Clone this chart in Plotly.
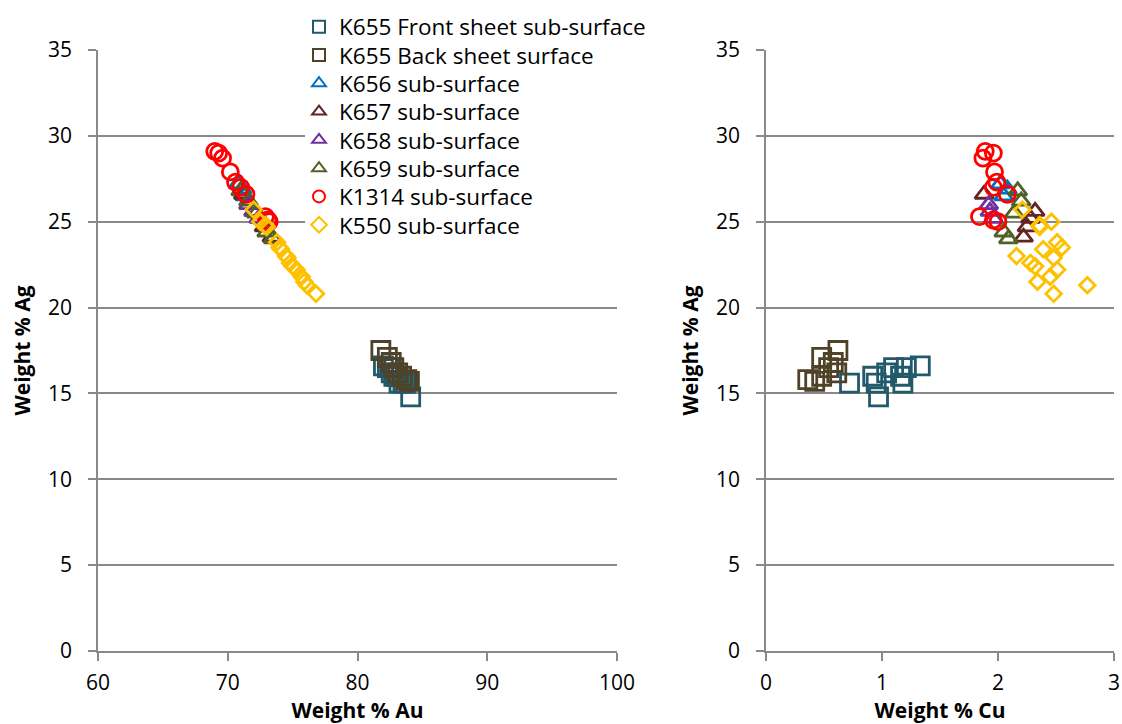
import plotly.graph_objects as go

# ---- data: each point has Au, Ag, Cu (weight %) ----
front_ag = [16.6, 16.5, 16.5, 16.2, 16.0, 16.0, 15.6, 15.6, 15.6, 14.8]
front_au = [82.0, 82.3, 82.5, 82.6, 82.8, 83.0, 83.2, 83.5, 83.7, 84.1]
front_cu = [1.33, 1.10, 1.21, 1.04, 0.92, 1.16, 0.72, 0.95, 1.18, 0.97]

back_ag = [17.5, 17.1, 16.8, 16.5, 16.2, 16.0, 15.8, 15.7]
back_au = [81.8, 82.3, 82.6, 82.8, 83.1, 83.4, 83.8, 84.0]
back_cu = [0.62, 0.48, 0.58, 0.54, 0.61, 0.48, 0.36, 0.42]

k656_ag = [27.2, 26.9, 26.5]
k656_au = [70.8, 71.1, 71.3]
k656_cu = [2.02, 2.08, 2.05]

k657_ag = [26.6, 25.6, 25.2, 24.7, 24.1]
k657_au = [71.2, 72.0, 72.5, 72.8, 73.4]
k657_cu = [1.88, 2.32, 2.28, 2.25, 2.22]

k658_ag = [26.0, 25.6, 25.2]
k658_au = [71.6, 72.0, 72.4]
k658_cu = [1.92, 1.93, 1.96]

k659_ag = [26.8, 26.2, 25.5, 24.4, 24.0]
k659_au = [71.0, 71.6, 72.2, 73.0, 73.5]
k659_cu = [2.17, 2.20, 2.14, 2.05, 2.09]

k1314_ag = [29.1, 29.0, 28.7, 27.9, 27.3, 27.0, 26.6, 25.3, 25.1, 25.0]
k1314_au = [69.0, 69.3, 69.6, 70.2, 70.6, 71.0, 71.4, 72.9, 73.1, 73.2]
k1314_cu = [1.89, 1.96, 1.87, 1.97, 1.99, 1.96, 2.08, 1.84, 1.96, 2.00]

k550_ag = [25.7, 25.0, 24.8, 24.7, 23.8, 23.5, 23.4, 23.0, 22.9, 22.6, 22.4, 22.2, 21.8, 21.5, 21.3, 20.8]
k550_au = [72.0, 72.5, 72.9, 73.0, 73.8, 74.0, 74.1, 74.5, 74.6, 74.8, 75.0, 75.3, 75.7, 75.9, 76.1, 76.8]
k550_cu = [2.21, 2.46, 2.36, 2.36, 2.51, 2.55, 2.39, 2.16, 2.48, 2.28, 2.32, 2.51, 2.45, 2.34, 2.77, 2.48]

x_ticks_au = [60, 70, 80, 90, 100]
x_ticks_cu = [0, 1, 2, 3]
y_ticks = [0, 5, 10, 15, 20, 25, 30, 35]

series = [
    ("K655 Front sheet sub-surface", front_au, front_ag, front_cu, "square-open", "#215A6B", 18),
    ("K655 Back sheet surface", back_au, back_ag, back_cu, "square-open", "#4E4328", 18),
    ("K656 sub-surface", k656_au, k656_ag, k656_cu, "triangle-up-open", "#0070C0", 16),
    ("K657 sub-surface", k657_au, k657_ag, k657_cu, "triangle-up-open", "#632523", 16),
    ("K658 sub-surface", k658_au, k658_ag, k658_cu, "triangle-up-open", "#7030A0", 16),
    ("K659 sub-surface", k659_au, k659_ag, k659_cu, "triangle-up-open", "#4F6228", 16),
    ("K1314 sub-surface", k1314_au, k1314_ag, k1314_cu, "circle-open", "#FF0000", 16),
    ("K550 sub-surface", k550_au, k550_ag, k550_cu, "diamond-open", "#FFC000", 12),
]

FONT = "Open Sans"
W, H = 1122, 724
def px(x):
    return x / W
def py(y):
    return 1 - y / H

legend_keys = ["legend"] + ["legend%d" % i for i in range(2, len(series) + 1)]

fig = go.Figure()
for i, (name, au, ag, cu, sym, col, sz) in enumerate(series):
    fig.add_trace(go.Scatter(x=au, y=ag, mode="markers", name=name, legendgroup=name,
                             legend=legend_keys[i],
                             marker=dict(symbol=sym, size=sz, color=col,
                                         line=dict(color=col, width=2.8)),
                             xaxis="x", yaxis="y"))
for name, au, ag, cu, sym, col, sz in series:
    fig.add_trace(go.Scatter(x=cu, y=ag, mode="markers", name=name, legendgroup=name,
                             showlegend=False,
                             marker=dict(symbol=sym, size=sz, color=col,
                                         line=dict(color=col, width=2.8)),
                             xaxis="x2", yaxis="y2"))

grid = "#898989"
ax_common = dict(showline=True, linecolor=grid, linewidth=1.5, ticks="outside", ticklen=8,
                 tickcolor=grid, tickwidth=1.5, tickfont=dict(family=FONT, size=21, color="black"),
                 zeroline=False, automargin=False)
ydom = [py(651), py(50)]
title_font = dict(family=FONT, size=21, color="black")

layout = dict(
    width=W, height=H,
    margin=dict(l=0, r=0, t=0, b=0),
    paper_bgcolor="white", plot_bgcolor="white",
    font=dict(family=FONT, color="black"),
    xaxis=dict(domain=[px(98), px(617)], range=[60, 100], tickvals=x_ticks_au,
               showgrid=False, anchor="y", ticklabelstandoff=4,
               title=dict(text="<b>Weight % Au</b>", font=title_font, standoff=10),
               **ax_common),
    yaxis=dict(domain=ydom, range=[0, 35], tickvals=y_ticks, showgrid=True, gridcolor=grid,
               gridwidth=1.5, anchor="x", ticklabelstandoff=12,
               title=dict(text="<b>Weight % Ag</b>", font=title_font, standoff=12),
               **ax_common),
    xaxis2=dict(domain=[px(766), px(1114)], range=[0, 3], tickvals=x_ticks_cu,
                showgrid=False, anchor="y2", ticklabelstandoff=4,
                title=dict(text="<b>Weight % Cu</b>", font=title_font, standoff=10),
                **ax_common),
    yaxis2=dict(domain=ydom, range=[0, 35], tickvals=y_ticks, showgrid=True, gridcolor=grid,
                gridwidth=1.5, anchor="x2", ticklabelstandoff=12,
                title=dict(text="<b>Weight % Ag</b>", font=title_font, standoff=12),
                **ax_common),
    showlegend=True,
    # white panel behind the legend, hiding the gridlines there
    shapes=[dict(type="rect", xref="paper", yref="paper", layer="above",
                 x0=px(305), x1=px(660), y0=py(242), y1=py(8),
                 fillcolor="white", line=dict(width=0))],
)
for i, key in enumerate(legend_keys):
    layout[key] = dict(x=px(299), y=py(27 + 28.3 * i), xanchor="left", yanchor="middle",
                       bgcolor="rgba(0,0,0,0)", font=dict(family=FONT, size=22.5, color="black"),
                       itemsizing="constant", itemwidth=30)
fig.update_layout(**layout)

fig.write_html("out.html", config={"displayModeBar": False},
               post_script="document.body.style.margin='0';document.body.style.overflow='hidden';")
